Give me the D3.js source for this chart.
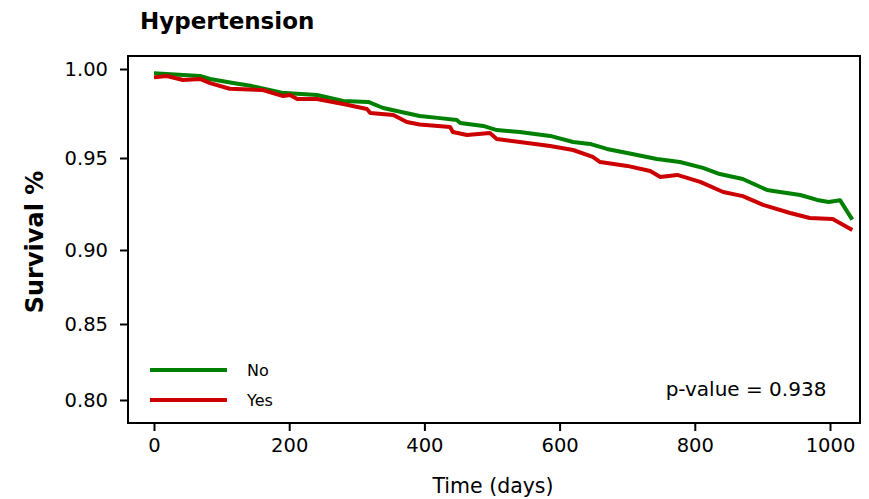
<!DOCTYPE html>
<html>
<head>
<meta charset="utf-8">
<script src="https://cdn.jsdelivr.net/npm/d3@7"></script>
<style>
  body { margin: 0; background: #fff; }
  text { font-family: "DejaVu Sans", sans-serif; }
</style>
</head>
<body>
<svg id="chart" width="869" height="499"></svg>
<script>
// survival estimates
const daysNo = [0, 68, 83, 117, 145, 189, 241, 280, 317, 339, 393, 423, 448, 453, 487, 507, 541, 586, 620, 645, 670, 700, 744, 778, 812, 837, 871, 907, 916, 956, 981, 998, 1015, 1033]
const survNo = [0.9976, 0.9961, 0.9944, 0.9921, 0.9904, 0.9867, 0.9854, 0.9820, 0.9815, 0.9781, 0.9736, 0.9724, 0.9713, 0.9697, 0.9680, 0.9657, 0.9646, 0.9624, 0.9590, 0.9579, 0.9551, 0.9528, 0.9495, 0.9478, 0.9446, 0.9413, 0.9386, 0.9326, 0.9321, 0.9299, 0.9272, 0.9261, 0.9270, 0.9165]
const daysYes = [0, 19, 43, 68, 83, 112, 161, 191, 201, 212, 241, 280, 315, 320, 354, 374, 393, 438, 442, 463, 497, 507, 541, 586, 620, 649, 660, 700, 734, 749, 774, 808, 842, 871, 901, 941, 970, 1004, 1033]
const survYes = [0.9953, 0.9961, 0.9938, 0.9944, 0.9921, 0.9889, 0.9882, 0.9848, 0.9854, 0.9831, 0.9831, 0.9803, 0.9775, 0.9753, 0.9742, 0.9702, 0.9688, 0.9674, 0.9646, 0.9629, 0.9640, 0.9607, 0.9590, 0.9567, 0.9545, 0.9506, 0.9478, 0.9457, 0.9429, 0.9397, 0.9408, 0.9370, 0.9315, 0.9293, 0.9245, 0.9201, 0.9174, 0.9168, 0.9109]

const groups = ["No", "Yes"]
const colors = ["#008000", "#cc0000"]
const xTicks = [0, 200, 400, 600, 800, 1000]
const yTicks = [0.80, 0.85, 0.90, 0.95, 1.00]
const pText = "p-value = 0.938"

const svg = d3.select("#chart")
const box = {left: 128, right: 860, top: 56, bottom: 423}

const x = d3.scaleLinear().domain([0, 1000]).range([154, 830])
// the picture's y axis is not evenly spaced, so follow its ticks
const y = d3.scaleLinear().domain(yTicks).range([400, 324, 250, 158, 69])

const series = [
  daysNo.map((d, i) => ({t: d, s: survNo[i]})),
  daysYes.map((d, i) => ({t: d, s: survYes[i]}))
]

const line = d3.line().x(d => x(d.t)).y(d => y(d.s))

svg.selectAll(".curve").data(series).join("path").attr("class", "curve")
  .attr("d", d => line(d))
  .attr("fill", "none")
  .attr("stroke", (d, i) => colors[i])
  .attr("stroke-width", 4)
  .attr("stroke-linejoin", "round")

svg.append("rect").attr("x", box.left).attr("y", box.top)
  .attr("width", box.right - box.left).attr("height", box.bottom - box.top)
  .attr("fill", "none").attr("stroke", "#000").attr("stroke-width", 2)

const xAxis = svg.append("g").attr("transform", "translate(0," + box.bottom + ")")
  .call(d3.axisBottom(x).tickValues(xTicks).tickSize(8).tickPadding(7).tickFormat(d3.format("d")))
xAxis.select(".domain").remove()
xAxis.selectAll("line").attr("stroke-width", 2)
xAxis.selectAll("text").attr("font-size", 19.5).attr("fill", "#000")

const yAxis = svg.append("g").attr("transform", "translate(" + box.left + ",0)")
  .call(d3.axisLeft(y).tickValues(yTicks).tickSize(8).tickPadding(12).tickFormat(d3.format(".2f")))
yAxis.select(".domain").remove()
yAxis.selectAll("line").attr("stroke-width", 2)
yAxis.selectAll("text").attr("font-size", 19.5).attr("fill", "#000")

svg.append("text").attr("x", 140).attr("y", 29).attr("font-size", 23).attr("font-weight", "bold")
  .text("Hypertension")

svg.append("text").attr("transform", "translate(43,242) rotate(-90)")
  .attr("text-anchor", "middle").attr("font-size", 24).attr("font-weight", "bold")
  .text("Survival %")

svg.append("text").attr("x", 493).attr("y", 493).attr("text-anchor", "middle").attr("font-size", 20.5)
  .text("Time (days)")

// legend
const leg = svg.append("g").selectAll("g").data(groups).join("g")
  .attr("transform", (d, i) => "translate(150," + (370 + i * 30) + ")")
leg.append("line").attr("x1", 0).attr("x2", 77)
  .attr("stroke", (d, i) => colors[i]).attr("stroke-width", 4)
leg.append("text").attr("x", 97).attr("dy", "0.35em").attr("font-size", 16).text(d => d)

svg.append("text").attr("x", 746).attr("y", 396).attr("text-anchor", "middle").attr("font-size", 20)
  .text(pText)
</script>
</body>
</html>
